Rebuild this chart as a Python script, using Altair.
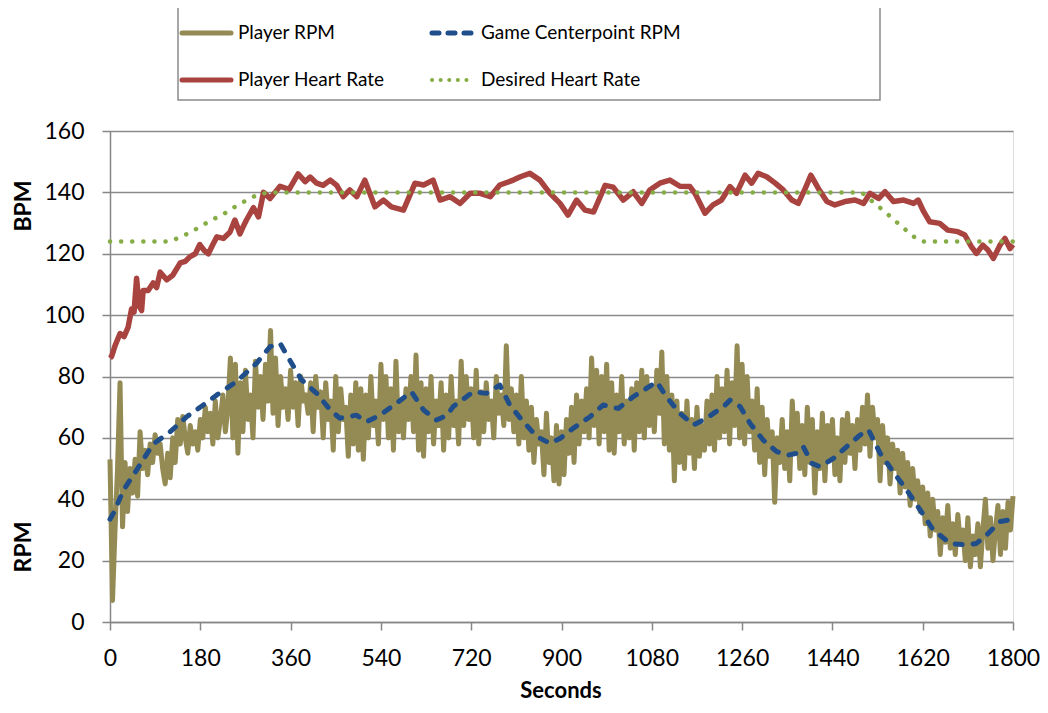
import altair as alt
import pandas as pd

# ---------------- data ----------------
RPM_T = list(range(0, 1801, 5))
RPM_V = [
    53, 7, 30, 50, 78, 31, 52, 36, 50, 42, 53, 41, 62, 50, 56, 48, 58, 52, 61, 55,
    58, 50, 45, 55, 47, 60, 52, 66, 58, 67, 60, 55, 64, 58, 62, 56, 66, 60, 70, 62,
    68, 58, 72, 60, 66, 74, 62, 70, 86, 60, 84, 55, 78, 62, 82, 66, 74, 60, 85, 70,
    80, 66, 84, 72, 95, 68, 86, 64, 80, 70, 76, 66, 82, 70, 78, 64, 80, 72, 74, 68,
    78, 62, 80, 70, 75, 60, 78, 66, 72, 56, 80, 62, 76, 66, 70, 54, 74, 58, 78, 56,
    76, 53, 74, 60, 80, 64, 72, 58, 84, 66, 80, 60, 76, 56, 85, 62, 72, 60, 76, 66,
    80, 62, 87, 56, 78, 54, 76, 62, 80, 58, 72, 64, 78, 56, 74, 60, 80, 64, 72, 58,
    85, 64, 80, 66, 76, 60, 82, 58, 75, 62, 78, 66, 72, 60, 80, 68, 74, 64, 90, 66,
    76, 62, 74, 58, 80, 60, 72, 56, 70, 52, 66, 58, 62, 48, 68, 52, 60, 46, 64, 45,
    62, 48, 66, 55, 70, 52, 74, 58, 72, 62, 76, 60, 86, 64, 82, 58, 80, 62, 84, 56,
    78, 55, 74, 62, 80, 58, 72, 60, 76, 56, 78, 62, 82, 60, 80, 64, 76, 62, 82, 68,
    88, 58, 80, 56, 74, 46, 72, 52, 68, 50, 72, 55, 66, 50, 70, 54, 64, 56, 72, 58,
    74, 56, 80, 60, 76, 62, 82, 58, 78, 64, 90, 60, 84, 58, 80, 62, 72, 56, 76, 52,
    70, 48, 66, 54, 62, 39, 60, 52, 66, 50, 62, 46, 72, 56, 68, 50, 64, 48, 70, 52,
    66, 42, 62, 50, 68, 46, 64, 54, 66, 48, 60, 46, 66, 52, 68, 55, 64, 50, 66, 56,
    70, 58, 74, 54, 70, 60, 66, 46, 64, 52, 60, 45, 58, 50, 56, 42, 55, 44, 52, 38,
    50, 40, 46, 36, 44, 32, 42, 28, 40, 30, 36, 22, 34, 26, 38, 24, 32, 22, 35, 26,
    30, 20, 34, 18, 28, 22, 32, 18, 30, 40, 24, 34, 20, 30, 38, 22, 36, 24, 39, 30,
    41,
]

CP_T = [0, 7, 27, 53, 86, 120, 153, 186, 213, 252, 292, 319, 339, 362, 382, 412,
        439, 458, 491, 512, 538, 571, 601, 625, 651, 672, 684, 724, 750, 777, 797,
        821, 851, 877, 897, 923, 957, 983, 1013, 1043, 1069, 1090, 1109, 1136, 1163,
        1189, 1223, 1236, 1256, 1276, 1302, 1329, 1352, 1370, 1382, 1399, 1415, 1442,
        1468, 1495, 1512, 1535, 1561, 1588, 1615, 1641, 1675, 1708, 1727, 1747, 1774,
        1800]
CP_V = [33.5, 35.5, 43, 49.5, 58, 62, 66.9, 70.7, 74, 78.3, 84.3, 89.7, 90.8, 84.3,
        78.9, 74.5, 69.1, 66.4, 67.4, 65.3, 67.4, 71.3, 75, 69.1, 65.8, 67.4, 70.2,
        75, 74.5, 77.2, 70.7, 65.8, 60.4, 58.2, 59.8, 63.1, 66.9, 70.7, 69.6, 73.4,
        76.1, 78.3, 73.4, 68, 64.2, 66.4, 70.2, 72.3, 70.2, 64.7, 59.3, 55.5, 54.4,
        55, 57.1, 51.7, 50.6, 53.3, 57.1, 60.9, 62.6, 55, 49, 43, 36.5, 30, 25.6,
        25.1, 25.6, 28.3, 32.7, 33.5]

HR_T = [0, 3, 10, 20, 28, 36, 43, 48, 53, 58, 63, 66, 76, 86, 93, 100, 113, 125,
        140, 150, 159, 170, 179, 188, 196, 205, 213, 226, 239, 249, 259, 266, 272,
        286, 296, 306, 319, 329, 339, 357, 375, 389, 399, 412, 425, 439, 452, 465,
        478, 492, 508, 528, 545, 561, 585, 608, 625, 644, 658, 678, 698, 718, 738,
        758, 777, 804, 818, 837, 857, 877, 897, 913, 930, 947, 964, 987, 1003, 1023,
        1043, 1060, 1076, 1096, 1116, 1136, 1156, 1166, 1186, 1202, 1219, 1236, 1249,
        1266, 1279, 1292, 1309, 1326, 1342, 1359, 1372, 1386, 1397, 1412, 1429, 1445,
        1465, 1485, 1502, 1515, 1532, 1545, 1562, 1582, 1602, 1611, 1622, 1634, 1654,
        1670, 1690, 1704, 1717, 1727, 1740, 1750, 1761, 1774, 1784, 1794, 1800]
HR_V = [86, 86.5, 90, 94, 93, 96, 102, 101, 112, 103, 101.5, 108, 108, 110.5, 109,
        114, 111.5, 113, 117, 117.5, 119, 120, 123, 121, 120, 123, 125.5, 125, 127,
        131, 126.5, 129, 131, 135, 132, 140, 138, 140, 142, 141, 146, 143.5, 145, 143,
        142.3, 144, 142.3, 138.6, 140.8, 138.6, 144, 135.3, 137.5, 135.3, 134.2, 143,
        142.4, 144, 137.5, 138.6, 136.4, 139.7, 139.7, 138.6, 142.4, 144, 145.1, 146.2,
        144, 139.7, 136.4, 132.6, 137.5, 134.2, 133.6, 142.3, 141.7, 137.5, 140.2,
        136.4, 140.8, 143, 144, 142, 141.9, 139.7, 133.2, 135.9, 137.5, 141.9, 139.7,
        145.6, 143, 146.2, 145.1, 143, 140.8, 137.5, 136.4, 141.3, 145.6, 141.3, 137,
        135.9, 137, 137.5, 136.4, 139.7, 138, 140.2, 137, 137.5, 136.4, 137.5, 133.7,
        130.4, 129.9, 127.7, 127.2, 126.1, 122.3, 120.1, 122.8, 121.2, 118.5, 122.8,
        125, 121.7, 123]

DES_T = [0, 120, 141, 161, 181, 203, 227, 251, 273, 297, 319, 340, 1498, 1515,
         1528, 1546, 1563, 1581, 1599, 1618, 1640, 1800]
DES_V = [124, 124, 125.5, 127, 129, 131, 133, 135.5, 137.5, 139.5, 140, 140, 140,
         137.7, 135.9, 133.5, 131, 128.5, 125.9, 124, 124, 124]

X_TICKS = list(range(0, 1801, 180))
Y_TICKS = list(range(0, 161, 20))

LEG_LABELS = ["Player RPM", "Game Centerpoint RPM", "Player Heart Rate", "Desired Heart Rate"]

# ---------------- styling ----------------
FONT = "Lato"
GRID = "#8a8a8a"
OLIVE = "#948a54"
BLUE = "#1f4e8a"
RED = "#a9433f"
GREEN = "#86ad45"

W, H = 903, 491
xs = alt.Scale(domain=[0, 1800], nice=False, zero=False)
ys = alt.Scale(domain=[0, 160], nice=False)

x_axis = alt.Axis(values=X_TICKS, format="d", grid=False, domainColor="#868686",
                  domainWidth=1.5, tickColor="#868686", tickWidth=1.5, tickSize=8,
                  labelFontSize=23, labelFont=FONT, labelColor="black", labelPadding=17,
                  title=None, labelFlush=False, labelOverlap=False)
y_axis = alt.Axis(values=Y_TICKS, format="d", grid=True, gridColor=GRID, gridWidth=1.5,
                  domainColor="#868686", domainWidth=1.5, tickColor="#868686",
                  tickWidth=1.5, tickSize=8, labelFontSize=23, labelFont=FONT,
                  labelColor="black", labelPadding=18, title=None)


def series(t, v, **mark):
    df = pd.DataFrame({"t": t, "v": v})
    return alt.Chart(df).mark_line(strokeJoin="round", **mark).encode(
        x=alt.X("t:Q", scale=xs, axis=x_axis),
        y=alt.Y("v:Q", scale=ys, axis=y_axis),
    )


rpm = series(RPM_T, RPM_V, color=OLIVE, strokeWidth=5)
hr = series(HR_T, HR_V, color=RED, strokeWidth=5.5)
cp = series(CP_T, CP_V, color=BLUE, strokeWidth=5, strokeDash=[7, 11], strokeCap="round")
des = series(DES_T, DES_V, color=GREEN, strokeWidth=4.5, strokeDash=[0.1, 11], strokeCap="round")

one = pd.DataFrame({"a": [0]})

# legend box
box = alt.Chart(one).mark_rect(fill="white", stroke="#8a8a8a", strokeWidth=1.5).encode(
    x=alt.value(68), x2=alt.value(770), y=alt.value(-126), y2=alt.value(-31))

leg_styles = [
    dict(color=OLIVE, strokeWidth=5, strokeCap="round"),
    dict(color=BLUE, strokeWidth=5, strokeDash=[7, 9], strokeCap="round"),
    dict(color=RED, strokeWidth=5, strokeCap="round"),
    dict(color=GREEN, strokeWidth=4, strokeDash=[0.1, 8.5], strokeCap="round"),
]
leg_pos = [(72, 121, -98), (322, 364, -98), (72, 121, -51), (322, 364, -51)]
leg_layers = []
for lab, st, (x1, x2, yy) in zip(LEG_LABELS, leg_styles, leg_pos):
    leg_layers.append(alt.Chart(one).mark_rule(**st).encode(
        x=alt.value(x1), x2=alt.value(x2), y=alt.value(yy)))
    leg_layers.append(alt.Chart(one).mark_text(
        text=lab, font=FONT, fontSize=19, align="left", baseline="middle", color="black"
    ).encode(x=alt.value(x2 + 7), y=alt.value(yy)))

titles = [
    alt.Chart(one).mark_text(text="BPM", font=FONT, fontSize=23, fontWeight="bold",
                             angle=270, align="center", baseline="middle", color="black"
                             ).encode(x=alt.value(-86), y=alt.value(75)),
    alt.Chart(one).mark_text(text="RPM", font=FONT, fontSize=23, fontWeight="bold",
                             angle=270, align="center", baseline="middle", color="black"
                             ).encode(x=alt.value(-86), y=alt.value(416)),
    alt.Chart(one).mark_text(text="Seconds", font=FONT, fontSize=22, fontWeight="bold",
                             align="center", baseline="middle", color="black"
                             ).encode(x=alt.value(451), y=alt.value(560)),
]

chart = alt.layer(rpm, hr, cp, des, box, *leg_layers, *titles).properties(
    width=W, height=H,
    autosize=alt.AutoSizeParams(type="none"),
    padding={"left": 102, "top": 123, "right": 27, "bottom": 83},
).configure_view(strokeWidth=0).configure(background="white")

chart.save("out.html", embed_options={"renderer": "svg", "actions": False})
